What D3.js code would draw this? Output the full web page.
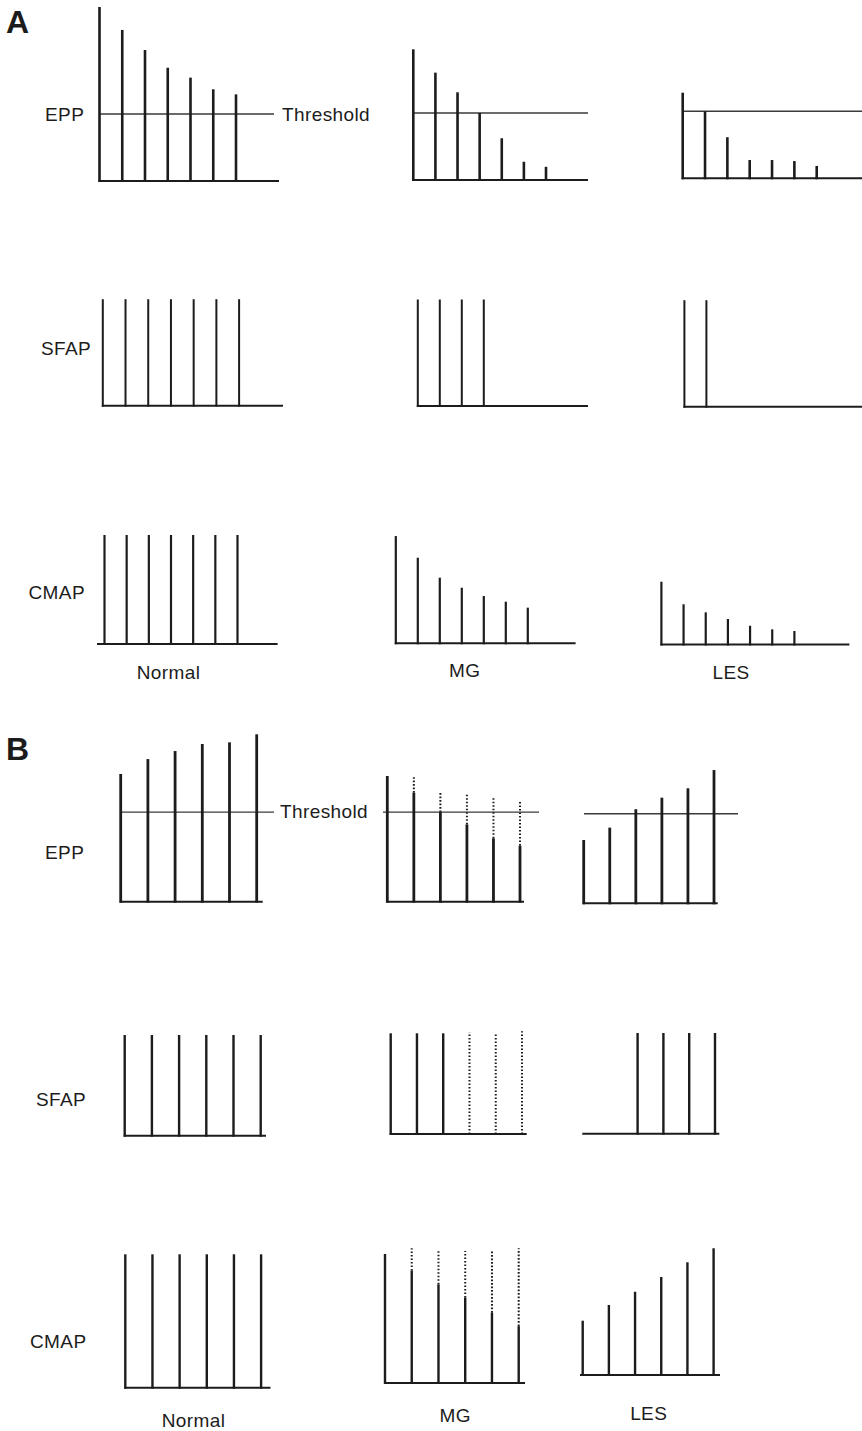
<!DOCTYPE html>
<html>
<head>
<meta charset="utf-8">
<script src="https://cdn.jsdelivr.net/npm/d3@7"></script>
<style>
	body { margin: 0; background: #fff; }
	svg text { font-family: "Liberation Sans", Arial, Helvetica, sans-serif; fill: #1c1c1c; }
</style>
</head>
<body>
<svg id="chart" width="862" height="1431"></svg>
<script>
var conditions = ["Normal", "MG", "LES"];
var measures = ["EPP", "SFAP", "CMAP"];

// panel A: 7 stimuli, amplitudes in % of the row's full height
var aEPP = [
	[100, 86.8, 75.3, 65.1, 59.4, 52.7, 49.8],
	[75.1, 61.7, 50.4, 38.5, 24.0, 10.5, 7.6],
	[49.2, 38.5, 23.6, 10.5, 10.5, 9.9, 7.1]
];
var aSFAP = [
	[100, 100, 100, 100, 100, 100, 100],
	[100, 100, 100, 100, 0, 0, 0],
	[100, 100, 0, 0, 0, 0, 0]
];
var aCMAP = [
	[100, 100, 100, 100, 100, 100, 100],
	[98.4, 78.5, 60.2, 51, 43.4, 38.2, 32.7],
	[57.6, 36.9, 29.5, 23.4, 17.2, 13.9, 12.4]
];
var aThreshold = 38.5;

// panel B: 6 stimuli, dotted = amplitude reached after the solid part (MG only)
var bEPP = [
	[76.3, 85.2, 90, 94.2, 95.2, 100],
	[75.1, 65.1, 53.5, 46.2, 37.9, 33.5],
	[37.8, 45.2, 56.2, 63.1, 68.7, 79.6]
];
var bEPPDotted = [null, 74.3, 65.7, 64.3, 62.4, 60.8];
var bSFAP = [
	[100, 100, 100, 100, 100, 100],
	[100, 100, 100, 0, 0, 0],
	[0, 0, 100, 100, 100, 100]
];
var bSFAPDotted = [null, null, null, 101, 100, 102];
var bCMAP = [
	[100, 100, 100, 100, 100, 100],
	[96.7, 84.3, 74, 64.1, 52.7, 42.6],
	[40.7, 52.5, 62.4, 73.5, 84.5, 95]
];
var bCMAPDotted = [null, 101, 99, 99, 99, 101];
var bThreshold = 53.5;

// layout: per cell [firstX, lastX, baseStart, baseEnd, baseY]
var layoutA = {
	rowHeight: [174, 106.5, 109],
	stroke: [2.6, 2, 2.2],
	cells: [
		[[99.5, 236, 99.5, 279, 181], [413.3, 546, 413.3, 588, 180], [682.7, 816.7, 682.7, 862, 178.3]],
		[[102.8, 239.1, 102.8, 283, 405.7], [417.8, 549.8, 417.8, 588, 406], [684.4, 816.4, 684.4, 862, 406.7]],
		[[104.5, 237.5, 98, 277.6, 644], [395.8, 527.8, 395.8, 575.6, 643.3], [661.4, 794.4, 661.4, 849.4, 644.5]]
	],
	threshold: [[99.5, 274], [413.3, 588], [682.7, 862]],
	thresholdLabel: [282, 114],
	rowLabels: [[45, 114], [41, 348], [28.5, 592]],
	colLabels: [[168.5, 672], [464.7, 670], [731, 672]],
	letter: ["A", 6, 33]
};
var layoutB = {
	rowHeight: [167.4, 100.7, 133.4],
	stroke: [2.8, 2.4, 2.4],
	cells: [
		[[120.7, 256.7, 120.7, 262.7, 901.7], [387.3, 520, 387.3, 524, 901.7], [583.7, 714, 583.7, 717.7, 903.3]],
		[[124.7, 260.7, 124.7, 266, 1135.7], [390.7, 522, 390.7, 526.7, 1134], [586, 715, 583.3, 719.3, 1133.7]],
		[[125.3, 261.1, 125.3, 270.5, 1387.7], [385, 518.7, 385, 525, 1383], [582.7, 713.6, 581, 720, 1375]]
	],
	threshold: [[120.7, 274], [383, 539], [584, 738]],
	thresholdLabel: [280, 811.5],
	rowLabels: [[45, 852], [36, 1099], [30, 1341]],
	colLabels: [[193.5, 1420], [455.2, 1415], [648.7, 1413]],
	letter: ["B", 6, 760]
};

var svg = d3.select('#chart');
var ink = '#1c1c1c';

function drawCell(g, values, dotted, cell, h, width, threshold, thrExtent) {
	var x = d3.scaleLinear().domain([0, values.length - 1]).range([cell[0], cell[1]]),
		y = d3.scaleLinear().domain([0, 100]).range([cell[4], cell[4] - h]),
		spikes = values.map(function(v, i) { return {i: i, v: v}; }).filter(function(d) { return d.v > 0; });

	g.append('line')
		.attr('x1', cell[2] - 1).attr('x2', cell[3])
		.attr('y1', y(0)).attr('y2', y(0))
		.attr('stroke', ink).attr('stroke-width', 2);

	if (threshold != null) {
		g.append('line')
			.attr('x1', thrExtent[0]).attr('x2', thrExtent[1])
			.attr('y1', y(threshold)).attr('y2', y(threshold))
			.attr('stroke', '#3a3a3a').attr('stroke-width', 1.4);
	}

	g.selectAll('line.spike')
		.data(spikes).enter().append('line')
		.classed('spike', true)
		.attr('x1', function(d) { return x(d.i); })
		.attr('x2', function(d) { return x(d.i); })
		.attr('y1', y(0) + 1)
		.attr('y2', function(d) { return y(d.v); })
		.attr('stroke', ink).attr('stroke-width', width);

	if (!dotted) return;
	// dotted part sits on top of the solid spike (or on the baseline when there is none)
	var dots = dotted.map(function(v, i) { return {i: i, from: values[i], to: v}; })
		.filter(function(d) { return d.to != null; });
	g.selectAll('line.dotted')
		.data(dots).enter().append('line')
		.classed('dotted', true)
		.attr('x1', function(d) { return x(d.i); })
		.attr('x2', function(d) { return x(d.i); })
		.attr('y1', function(d) { return y(d.from); })
		.attr('y2', function(d) { return y(d.to); })
		.attr('stroke', ink).attr('stroke-width', 2)
		.attr('stroke-dasharray', '1.6 1.9');
}

function drawPanel(layout, rows, dottedRows, threshold) {
	var panel = svg.append('g');

	panel.append('text')
		.attr('x', layout.letter[1]).attr('y', layout.letter[2])
		.attr('font-size', 32).attr('font-weight', 'bold')
		.text(layout.letter[0]);

	rows.forEach(function(row, r) {
		row.forEach(function(values, c) {
			var dotted = (c === 1) ? dottedRows[r] : null;
			drawCell(panel.append('g'), values, dotted, layout.cells[r][c], layout.rowHeight[r],
				layout.stroke[r], r === 0 ? threshold : null, layout.threshold[c]);
		});
	});

	panel.selectAll('text.row')
		.data(measures).enter().append('text')
		.classed('row', true)
		.attr('x', function(d, i) { return layout.rowLabels[i][0]; })
		.attr('y', function(d, i) { return layout.rowLabels[i][1]; })
		.attr('dy', '0.35em')
		.attr('font-size', 19).attr('letter-spacing', 0.4)
		.text(function(d) { return d; });

	panel.selectAll('text.col')
		.data(conditions).enter().append('text')
		.classed('col', true)
		.attr('x', function(d, i) { return layout.colLabels[i][0]; })
		.attr('y', function(d, i) { return layout.colLabels[i][1]; })
		.attr('dy', '0.35em')
		.attr('text-anchor', 'middle')
		.attr('font-size', 19).attr('letter-spacing', 0.4)
		.text(function(d) { return d; });

	panel.append('text')
		.attr('x', layout.thresholdLabel[0]).attr('y', layout.thresholdLabel[1])
		.attr('dy', '0.35em')
		.attr('font-size', 19).attr('letter-spacing', 0.4)
		.text('Threshold');
}

drawPanel(layoutA, [aEPP, aSFAP, aCMAP], [null, null, null], aThreshold);
drawPanel(layoutB, [bEPP, bSFAP, bCMAP], [bEPPDotted, bSFAPDotted, bCMAPDotted], bThreshold);
</script>
</body>
</html>
